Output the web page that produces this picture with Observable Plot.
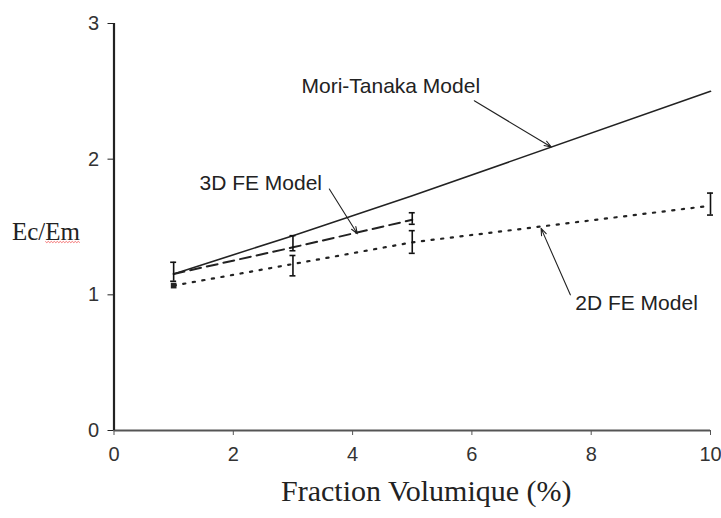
<!DOCTYPE html>
<html>
<head>
<meta charset="utf-8">
<script src="https://cdn.jsdelivr.net/npm/d3@7"></script>
<script src="https://cdn.jsdelivr.net/npm/@observablehq/plot@0.6"></script>
<style>
  html, body { margin: 0; padding: 0; background: white; }
</style>
</head>
<body>
<div id="chart"></div>
<script>
// Tick labels
const xTicks = [0, 2, 4, 6, 8, 10];
const yTicks = [0, 1, 2, 3];

// Mori-Tanaka model (solid)
const mtX = [1, 3, 5, 10];
const mtY = [1.154, 1.436, 1.73, 2.50];

// 3D FE model (dashed) with error bars
const fe3X = [1, 3, 5];
const fe3Y = [1.154, 1.35, 1.553];
const fe3Low = [1.10, 1.325, 1.52];
const fe3High = [1.24, 1.436, 1.605];

// 2D FE model (dotted) with error bars
const fe2X = [1, 3, 5, 10];
const fe2Y = [1.068, 1.227, 1.387, 1.657];
const fe2Low = [null, 1.14, 1.306, 1.588];
const fe2High = [null, 1.29, 1.473, 1.75];

// Annotation labels (anchored in data units) and arrows
const annLabels = ["Mori-Tanaka Model", "3D FE Model", "2D FE Model"];
const annX = [4.64, 2.46, 8.76];
const annY = [2.54, 1.82, 0.935];
const arrX1 = [6.04, 3.61, 7.65];
const arrY1 = [2.43, 1.78, 1.00];
const arrX2 = [7.33, 4.08, 7.16];
const arrY2 = [2.09, 1.45, 1.49];

const xLabel = "Fraction Volumique (%)";
const yLabel = "Ec/Em";

const mt = mtX.map((x, i) => ({x, y: mtY[i]}));
const fe3 = fe3X.map((x, i) => ({x, y: fe3Y[i], lo: fe3Low[i], hi: fe3High[i]}));
const fe2 = fe2X.map((x, i) => ({x, y: fe2Y[i], lo: fe2Low[i], hi: fe2High[i]}));
const fe2Bars = fe2.filter(d => d.lo != null);
const ann = annLabels.map((t, i) => ({t, x: annX[i], y: annY[i]}));
const arrows = arrX1.map((x1, i) => ({x1, y1: arrY1[i], x2: arrX2[i], y2: arrY2[i]}));

const capHalf = 0.05;
const serif = "'Liberation Serif', 'Times New Roman', serif";
const sans = "'Liberation Sans', Arial, sans-serif";

function errorBars(data) {
  return [
    Plot.ruleX(data, {x: "x", y1: "lo", y2: "hi", stroke: "#111", strokeWidth: 1.6}),
    Plot.ruleY(data, {y: "lo", x1: d => d.x - capHalf, x2: d => d.x + capHalf, stroke: "#111", strokeWidth: 1.6}),
    Plot.ruleY(data, {y: "hi", x1: d => d.x - capHalf, x2: d => d.x + capHalf, stroke: "#111", strokeWidth: 1.6})
  ];
}

const chart = Plot.plot({
  width: 721,
  height: 518,
  marginLeft: 113.5,
  marginRight: 11,
  marginTop: 23,
  marginBottom: 88,
  style: {fontFamily: sans, fontSize: "20px", color: "#333", background: "white", overflow: "visible"},
  x: {domain: [0, 10]},
  y: {domain: [0, 3]},
  marks: [
    Plot.axisX({ticks: xTicks, tickFormat: "d", tickSize: 5, tickPadding: 11, fontSize: 20, label: null, stroke: "#555"}),
    Plot.axisY({ticks: yTicks, tickFormat: "d", tickSize: 6, tickPadding: 9, fontSize: 20, label: null, stroke: "#222"}),
    Plot.ruleY([0], {stroke: "#555", strokeWidth: 2}),
    Plot.ruleX([0], {stroke: "#222", strokeWidth: 2.2}),
    Plot.line(mt, {x: "x", y: "y", stroke: "#222", strokeWidth: 1.6}),
    Plot.line(fe3, {x: "x", y: "y", stroke: "#222", strokeWidth: 2, strokeDasharray: "11,6"}),
    Plot.line(fe2, {x: "x", y: "y", stroke: "#222", strokeWidth: 2.2, strokeDasharray: "2.2,7.5"}),
    ...errorBars(fe3),
    ...errorBars(fe2Bars),
    Plot.dot(fe2.slice(0, 1), {x: "x", y: "y", symbol: "square", r: 3.2, fill: "#222"}),
    Plot.arrow(arrows, {x1: "x1", y1: "y1", x2: "x2", y2: "y2", stroke: "#222", strokeWidth: 1.1, headLength: 10, headAngle: 40}),
    Plot.text(ann, {x: "x", y: "y", text: "t", fontSize: 21, fontFamily: sans, fill: "#222"}),
    Plot.text([yLabel], {frameAnchor: "left", y: 1.46, dx: -102, textAnchor: "start", fontSize: 25, fontFamily: serif, fill: "#222"}),
    Plot.text([xLabel], {frameAnchor: "bottom", dx: 14, dy: 70, fontSize: 30, fontFamily: serif, fill: "#222"})
  ]
});

document.getElementById("chart").appendChild(chart);

// red spell-check squiggle under "Em", placed from the rendered text's own box
const SVGNS = "http://www.w3.org/2000/svg";
chart.querySelectorAll("text").forEach(t => {
  if (t.textContent === yLabel) {
    while (t.firstChild) t.removeChild(t.firstChild);
    t.appendChild(document.createTextNode("Ec/"));
    const em = document.createElementNS(SVGNS, "tspan");
    em.textContent = "Em";
    t.appendChild(em);
    const bb = em.getBBox();
    const ctm = t.getCTM();
    const y0 = bb.y + bb.height * 0.86;
    let d = "";
    for (let x = bb.x, k = 0; x <= bb.x + bb.width; x += 1.5, k++) {
      d += (k === 0 ? "M" : "L") + x.toFixed(1) + "," + (y0 + (k % 2 ? 1 : -0.2)).toFixed(1);
    }
    const p = document.createElementNS(SVGNS, "path");
    p.setAttribute("d", d);
    p.setAttribute("fill", "none");
    p.setAttribute("stroke", "#e33");
    p.setAttribute("stroke-width", "0.9");
    p.setAttribute("opacity", "0.75");
    const tr = t.getAttribute("transform");
    if (tr) p.setAttribute("transform", tr);
    t.parentNode.appendChild(p);
  }
});
</script>
</body>
</html>
